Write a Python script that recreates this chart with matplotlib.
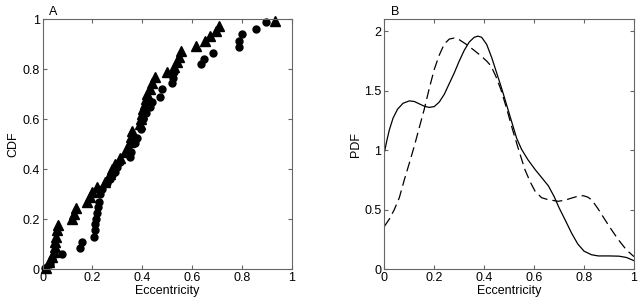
import matplotlib
matplotlib.use("Agg")
import matplotlib.pyplot as plt

plt.rcParams['font.family'] = ['Liberation Sans', 'DejaVu Sans']
plt.rcParams['font.size'] = 9

# panel A: empirical CDFs (triangles and circles)
tri_x = [0.015, 0.025, 0.04, 0.046, 0.049, 0.051, 0.055, 0.058, 0.062,
         0.12, 0.125, 0.135,
         0.18, 0.19, 0.20, 0.22,
         0.25, 0.27, 0.28, 0.29, 0.31,
         0.33, 0.345, 0.35, 0.355, 0.36,
         0.39, 0.395, 0.40, 0.405, 0.41, 0.415, 0.42, 0.43, 0.44, 0.45,
         0.50, 0.53, 0.54, 0.55, 0.558,
         0.618, 0.651, 0.671, 0.698, 0.709, 0.932]
tri_y = [0.005, 0.03, 0.05, 0.07, 0.09, 0.11, 0.13, 0.155, 0.175,
         0.20, 0.22, 0.245,
         0.27, 0.29, 0.31, 0.33,
         0.35, 0.38, 0.40, 0.42, 0.445,
         0.47, 0.49, 0.51, 0.53, 0.555,
         0.58, 0.60, 0.62, 0.64, 0.66, 0.68, 0.70, 0.72, 0.745, 0.77,
         0.79, 0.81, 0.83, 0.85, 0.873,
         0.893, 0.913, 0.933, 0.953, 0.973, 0.993]

circ_x = [0.01, 0.03, 0.04, 0.08, 0.15, 0.16, 0.205,
          0.21, 0.212, 0.215, 0.22, 0.222, 0.225, 0.23,
          0.24, 0.26, 0.27, 0.28, 0.29, 0.30, 0.31,
          0.35, 0.357, 0.37, 0.378, 0.397, 0.404, 0.417, 0.43, 0.438,
          0.47, 0.478, 0.52, 0.525, 0.53,
          0.638, 0.65, 0.685,
          0.79, 0.79, 0.80, 0.856, 0.896]
circ_y = [0.005, 0.02, 0.04, 0.06, 0.085, 0.11, 0.13,
          0.155, 0.18, 0.20, 0.225, 0.25, 0.27, 0.30,
          0.32, 0.345, 0.36, 0.375, 0.39, 0.41, 0.43,
          0.45, 0.47, 0.505, 0.525, 0.56, 0.60, 0.626, 0.65, 0.67,
          0.69, 0.72, 0.745, 0.765, 0.79,
          0.82, 0.84, 0.866,
          0.89, 0.913, 0.94, 0.963, 0.99]

# panel B: PDFs (solid and dashed)
solid_x = [0, 0.01, 0.02, 0.035, 0.053, 0.075, 0.1, 0.12, 0.14, 0.16, 0.18,
           0.2, 0.22, 0.24, 0.26, 0.28, 0.3, 0.32, 0.34, 0.36, 0.375, 0.39,
           0.41, 0.43, 0.45, 0.47, 0.49, 0.51, 0.53, 0.55, 0.575, 0.604,
           0.63, 0.657, 0.68, 0.7, 0.725, 0.75, 0.775, 0.8, 0.83, 0.857,
           0.9, 0.94, 0.97, 1.0]
solid_y = [0.98, 1.08, 1.17, 1.27, 1.345, 1.395, 1.415, 1.41, 1.39, 1.37, 1.36,
           1.367, 1.405, 1.47, 1.56, 1.65, 1.75, 1.84, 1.91, 1.95, 1.96, 1.95,
           1.89, 1.78, 1.65, 1.52, 1.38, 1.24, 1.1, 1.006, 0.92, 0.837,
           0.77, 0.70, 0.61, 0.515, 0.41, 0.302, 0.21, 0.15, 0.12, 0.11,
           0.11, 0.108, 0.097, 0.07]

dash_x = [0, 0.02, 0.04, 0.06, 0.08, 0.1, 0.12, 0.14, 0.16, 0.18, 0.2, 0.22,
          0.24, 0.26, 0.28, 0.3, 0.327, 0.36, 0.387, 0.41, 0.427, 0.447,
          0.467, 0.49, 0.514, 0.54, 0.563, 0.585, 0.604, 0.63, 0.657, 0.697,
          0.725, 0.75, 0.775, 0.797, 0.815, 0.83, 0.855, 0.884, 0.91, 0.938,
          0.97, 1.0]
dash_y = [0.358, 0.42, 0.5, 0.6, 0.75, 0.89, 1.034, 1.19, 1.345, 1.52, 1.68, 1.8,
          1.893, 1.935, 1.944, 1.93, 1.893, 1.84, 1.794, 1.75, 1.71, 1.62,
          1.51, 1.35, 1.17, 0.99, 0.837, 0.73, 0.654, 0.60, 0.583, 0.57,
          0.58, 0.597, 0.612, 0.617, 0.605, 0.583, 0.51, 0.414, 0.33, 0.245,
          0.16, 0.104]

xticks = [0, 0.2, 0.4, 0.6, 0.8, 1]
xlabels = ['0', '0.2', '0.4', '0.6', '0.8', '1']
yticks_b = [0, 0.5, 1, 1.5, 2]
ylabels_b = ['0', '0.5', '1', '1.5', '2']

fig = plt.figure(figsize=(6.43, 3.06), dpi=100)
ax1 = fig.add_axes([0.0661, 0.1209, 0.3873, 0.8154])
ax2 = fig.add_axes([0.5977, 0.1209, 0.3883, 0.8154])

ax1.plot(tri_x, tri_y, '^', color='black', markersize=6.5, clip_on=False)
ax1.plot(circ_x, circ_y, 'o', color='black', markersize=5, clip_on=False)
ax1.set_xlim(0, 1)
ax1.set_ylim(0, 1)
ax1.set_xticks(xticks)
ax1.set_xticklabels(xlabels)
ax1.set_yticks(xticks)
ax1.set_yticklabels(xlabels)
ax1.set_xlabel('Eccentricity', labelpad=1)
ax1.set_ylabel('CDF', labelpad=2)
ax1.text(0.025, 1.004, 'A', transform=ax1.transAxes, va='bottom', ha='left')

ax2.plot(solid_x, solid_y, '-', color='black', linewidth=0.9)
ax2.plot(dash_x, dash_y, '--', color='black', linewidth=0.9, dashes=(8, 4))
ax2.set_xlim(0, 1)
ax2.set_ylim(0, 2.1)
ax2.set_xticks(xticks)
ax2.set_xticklabels(xlabels)
ax2.set_yticks(yticks_b)
ax2.set_yticklabels(ylabels_b)
ax2.set_xlabel('Eccentricity', labelpad=1)
ax2.set_ylabel('PDF', labelpad=2)
ax2.text(0.025, 1.004, 'B', transform=ax2.transAxes, va='bottom', ha='left')

for ax in (ax1, ax2):
    for s in ax.spines.values():
        s.set_color('0.4')
        s.set_linewidth(0.8)
    ax.tick_params(direction='in', top=True, right=True, length=3,
                   color='0.4', pad=2, labelsize=9)

fig.savefig('out.png', dpi=100)
